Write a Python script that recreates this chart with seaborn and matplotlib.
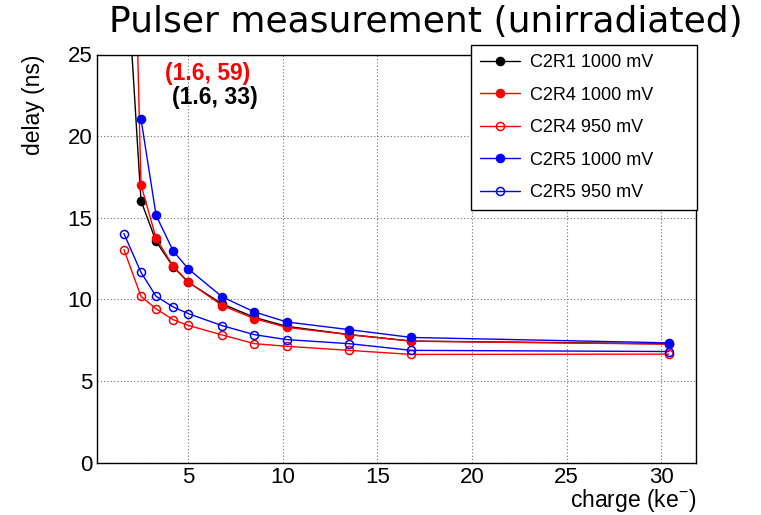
import numpy as np
import pandas as pd
import matplotlib
matplotlib.use("Agg")
import matplotlib.pyplot as plt
from matplotlib.ticker import MultipleLocator
import seaborn as sns

# ---- data ----
charge = [1.6, 2.5, 3.3, 4.2, 5.0, 6.8, 8.5, 10.2, 13.5, 16.8, 30.4]
series_labels = ["C2R1 1000 mV", "C2R4 1000 mV", "C2R4 950 mV",
                 "C2R5 1000 mV", "C2R5 950 mV"]
c2r1_1000 = [33.0, 16.05, 13.55, 12.0, 11.05, 9.72, 8.9, 8.35, 7.85, 7.45, 7.28]
c2r4_1000 = [59.0, 17.03, 13.74, 12.03, 11.07, 9.62, 8.82, 8.29, 7.84, 7.44, 7.26]
c2r4_950 = [13.05, 10.19, 9.42, 8.76, 8.41, 7.82, 7.29, 7.13, 6.88, 6.63, 6.65]
c2r5_1000 = [np.nan, 21.06, 15.15, 12.97, 11.87, 10.15, 9.23, 8.62, 8.15, 7.67, 7.34]
c2r5_950 = [14.03, 11.66, 10.19, 9.54, 9.13, 8.39, 7.84, 7.54, 7.29, 6.88, 6.81]
annot_red = "(1.6, 59)"
annot_black = "(1.6, 33)"

values = [c2r1_1000, c2r4_1000, c2r4_950, c2r5_1000, c2r5_950]
colors = ["#000000", "#ff0000", "#ff0000", "#0000ff", "#0000ff"]
filled = [True, True, False, True, False]

sns.set_theme(style="white")
plt.rcParams["font.family"] = ["Liberation Sans", "DejaVu Sans"]
plt.rcParams["mathtext.fontset"] = "custom"
plt.rcParams["mathtext.rm"] = "Liberation Sans"
plt.rcParams["mathtext.it"] = "Liberation Sans:italic"
plt.rcParams["mathtext.bf"] = "Liberation Sans:bold"

fig = plt.figure(figsize=(7.61, 5.15), dpi=100)
ax = fig.add_axes([96.7 / 761, (515 - 462.7) / 515, (696 - 96.7) / 761, (462.7 - 54.5) / 515])

for lab, vals, col, fill in zip(series_labels, values, colors, filled):
    df = pd.DataFrame({"charge": charge, "delay": vals}).dropna()
    sns.lineplot(data=df, x="charge", y="delay", ax=ax, color=col, linewidth=1.0,
                 marker="o", markersize=5.8,
                 markerfacecolor=col if fill else "none",
                 markeredgecolor=col, markeredgewidth=1.1,
                 label=lab, sort=False, estimator=None)

ax.set_xlim(0.16, 31.84)
ax.set_ylim(0, 25)
ax.xaxis.set_major_locator(MultipleLocator(5))
ax.xaxis.set_minor_locator(MultipleLocator(1))
ax.yaxis.set_major_locator(MultipleLocator(5))
ax.yaxis.set_minor_locator(MultipleLocator(1))

ax.tick_params(axis="x", which="major", direction="in", length=9.1, width=0.9,
               labelsize=16, pad=3, top=False, color="black")
ax.tick_params(axis="x", which="minor", direction="in", length=4.8, width=0.9,
               top=False, color="black")
ax.tick_params(axis="y", which="major", direction="in", length=9.4, width=0.9,
               labelsize=16, pad=3, right=False, color="black")
ax.tick_params(axis="y", which="minor", direction="in", length=6.5, width=0.9,
               right=False, color="black")
ax.tick_params(labelcolor="black")

for sp in ax.spines.values():
    sp.set_visible(True)
    sp.set_color("black")
    sp.set_linewidth(1.0)

ax.grid(True, which="major", linestyle=(0, (1, 2)), color="0.45", linewidth=0.8)
ax.set_axisbelow(True)

ax.set_xlabel(r"charge (ke$^{-}$)", fontsize=16.5, loc="right", color="black")
ax.set_ylabel("delay (ns)", fontsize=16.5, loc="top", color="black")
ax.xaxis.set_label_coords(1.0, -0.06)
ax.yaxis.set_label_coords(-0.086, 1.0)

ax.text(6.04, 23.86, annot_red, color="#ff0000", fontsize=16.5, fontweight="bold",
        ha="center", va="center")
ax.text(6.41, 22.39, annot_black, color="black", fontsize=16.5, fontweight="bold",
        ha="center", va="center")

fig.text(742.7 / 761, 1 - 32 / 515, "Pulser measurement (unirradiated)",
         fontsize=26, family=["DejaVu Sans"], ha="right", va="baseline", color="black")

handles, labs = ax.get_legend_handles_labels()
leg = ax.legend(handles, labs, loc="upper right",
                bbox_to_anchor=(471 / 761, 1 - 207 / 515, (697 - 471) / 761, (207 - 45) / 515),
                bbox_transform=fig.transFigure, mode="expand", fontsize=13,
                handlelength=2.2, handletextpad=0.55, labelspacing=0.86,
                borderpad=0.5, borderaxespad=0, fancybox=False, framealpha=1,
                edgecolor="black", facecolor="white")
leg.get_frame().set_linewidth(1.0)
for t in leg.get_texts():
    t.set_color("black")

fig.savefig("out.png", dpi=100)
